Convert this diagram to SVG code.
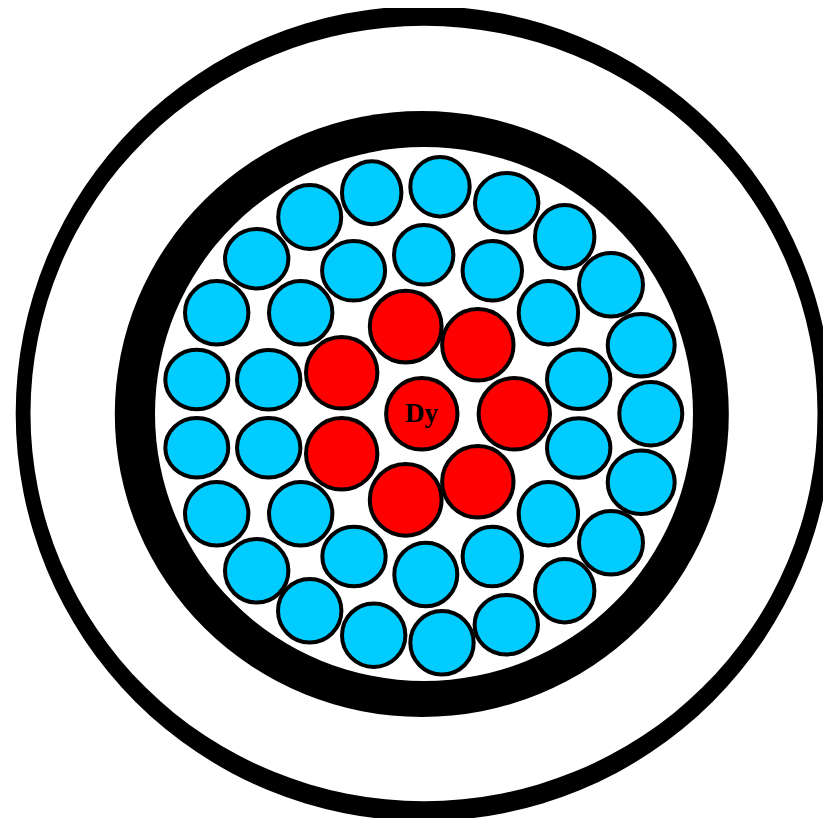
<svg xmlns="http://www.w3.org/2000/svg" width="823" height="818" viewBox="0 0 823 818">
<style>
.b{fill:#00ccff;stroke:#000;stroke-width:4}
.r{fill:#ff0000;stroke:#000;stroke-width:4}
.t{font-family:"Liberation Serif","Times New Roman",serif;font-weight:bold;font-size:27px;fill:#000;text-anchor:middle}
</style>
<rect width="823" height="818" fill="#fff"/>
<g id="outer-ring"><path fill-rule="evenodd" d="M15.700 413.500A408.300 407.500 0 1 1 832.300 413.500A408.300 407.500 0 1 1 15.700 413.500ZM30.500 413.500A393.500 387.500 0 1 0 817.500 413.500A393.500 387.500 0 1 0 30.500 413.500Z" fill="#000"/></g>
<rect x="0" y="0" width="823" height="8" fill="#fff"/>
<g id="inner-ring"><ellipse cx="421.800" cy="414" rx="307" ry="303" fill="#000"/><ellipse cx="424" cy="414" rx="269" ry="267" fill="#fff"/></g>
<g id="blue-outer">
<g id="b1"><ellipse class="b" cx="309.700" cy="217" rx="31.500" ry="32"/></g>
<g id="b2"><ellipse class="b" cx="371.700" cy="192.700" rx="29.700" ry="31.500"/></g>
<g id="b3"><ellipse class="b" cx="440" cy="186.700" rx="29.700" ry="29.700"/></g>
<g id="b4"><ellipse class="b" cx="506.700" cy="202.800" rx="31.700" ry="29.700"/></g>
<g id="b5"><ellipse class="b" cx="564.700" cy="236.800" rx="29.700" ry="31.700"/></g>
<g id="b6"><ellipse class="b" cx="611" cy="284.800" rx="32" ry="31.700"/></g>
<g id="b7"><ellipse class="b" cx="641.200" cy="345.300" rx="33.500" ry="31.300"/></g>
<g id="b8"><ellipse class="b" cx="650.800" cy="413.700" rx="31.500" ry="31.700"/></g>
<g id="b9"><ellipse class="b" cx="641.200" cy="482.300" rx="33.500" ry="31.700"/></g>
<g id="b10"><ellipse class="b" cx="611" cy="542.800" rx="32" ry="31.700"/></g>
<g id="b11"><ellipse class="b" cx="564.700" cy="590.800" rx="29.700" ry="31.700"/></g>
<g id="b12"><ellipse class="b" cx="506.300" cy="624.700" rx="31.700" ry="29.700"/></g>
<g id="b13"><ellipse class="b" cx="442" cy="642.800" rx="31.700" ry="31.800"/></g>
<g id="b14"><ellipse class="b" cx="373.700" cy="635.200" rx="31.700" ry="31.800"/></g>
<g id="b15"><ellipse class="b" cx="309.700" cy="610.800" rx="31.700" ry="31.700"/></g>
<g id="b16"><ellipse class="b" cx="256.700" cy="570.800" rx="31.700" ry="31.700"/></g>
<g id="b17"><ellipse class="b" cx="216.700" cy="513.800" rx="31.700" ry="31.700"/></g>
<g id="b18"><ellipse class="b" cx="196.800" cy="447.800" rx="31.500" ry="29.700"/></g>
<g id="b19"><ellipse class="b" cx="196.800" cy="379.500" rx="31.500" ry="29.700"/></g>
<g id="b20"><ellipse class="b" cx="216.700" cy="312.800" rx="31.700" ry="31.700"/></g>
<g id="b21"><ellipse class="b" cx="256.700" cy="258.800" rx="31.700" ry="29.700"/></g>
</g>
<g id="blue-inner">
<g id="c1"><ellipse class="b" cx="353.600" cy="270.800" rx="31.500" ry="29.800"/></g>
<g id="c2"><ellipse class="b" cx="423.700" cy="254.800" rx="29.700" ry="29.800"/></g>
<g id="c3"><ellipse class="b" cx="492.300" cy="270.800" rx="29.700" ry="29.700"/></g>
<g id="c4"><ellipse class="b" cx="548.400" cy="312.800" rx="29.700" ry="31.700"/></g>
<g id="c5"><ellipse class="b" cx="578.700" cy="379.300" rx="31.700" ry="29.700"/></g>
<g id="c6"><ellipse class="b" cx="578.700" cy="448" rx="31.700" ry="29.700"/></g>
<g id="c7"><ellipse class="b" cx="548.400" cy="513.800" rx="29.700" ry="31.700"/></g>
<g id="c8"><ellipse class="b" cx="492.300" cy="556.500" rx="29.700" ry="29.800"/></g>
<g id="c9"><ellipse class="b" cx="425.800" cy="574.500" rx="31.500" ry="31.800"/></g>
<g id="c10"><ellipse class="b" cx="354" cy="556.500" rx="31.700" ry="29.800"/></g>
<g id="c11"><ellipse class="b" cx="300.700" cy="513.800" rx="31.700" ry="31.700"/></g>
<g id="c12"><ellipse class="b" cx="268.700" cy="447.800" rx="31.700" ry="29.700"/></g>
<g id="c13"><ellipse class="b" cx="268.700" cy="379.800" rx="31.700" ry="29.700"/></g>
<g id="c14"><ellipse class="b" cx="300.700" cy="312.800" rx="31.700" ry="31.700"/></g>
</g>
<g id="red-ring">
<g id="r1"><circle class="r" cx="405.700" cy="326.600" r="35.900"/></g>
<g id="r2"><circle class="r" cx="477.800" cy="344.800" r="35.700"/></g>
<g id="r3"><circle class="r" cx="514.300" cy="413.800" r="35.700"/></g>
<g id="r4"><circle class="r" cx="477.800" cy="481.800" r="35.700"/></g>
<g id="r5"><circle class="r" cx="405.700" cy="499.800" r="35.900"/></g>
<g id="r6"><circle class="r" cx="341.700" cy="453.800" r="35.700"/></g>
<g id="r7"><circle class="r" cx="341.700" cy="372.800" r="35.700"/></g>
</g>
<g id="dy"><circle class="r" cx="421.800" cy="413.800" r="35.700"/><text class="t" x="421.500" y="422">Dy</text></g>
<g id="connectors"/>
</svg>
